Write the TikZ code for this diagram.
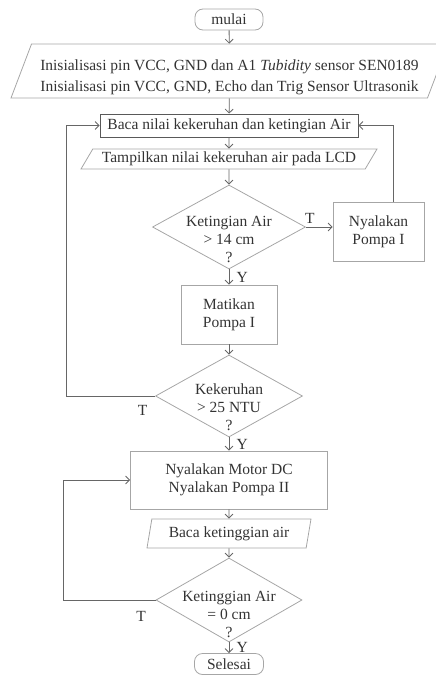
\documentclass[tikz,border=0pt]{standalone}
\usepackage{fontspec}
\setmainfont{Liberation Serif}
\usetikzlibrary{shapes.geometric,arrows.meta}

\begin{document}
\begin{tikzpicture}[x=1pt, y=-1pt,
    every node/.style={text=black!80, font=\fontsize{15.5}{18}\selectfont},
    terminal/.style={draw=black!35, line width=0.8pt, rounded corners=8pt,
        minimum width=68pt, minimum height=21pt, inner sep=0pt},
    proses/.style={draw=black!35, line width=0.8pt, align=center,
        inner sep=0pt},
    io/.style={trapezium, draw=black!35, line width=0.8pt, align=center,
        inner sep=0pt, trapezium stretches body},
    keputusan/.style={diamond, draw=black!35, line width=0.8pt,
        inner sep=0pt},
    teks/.style={align=center, inner sep=0pt},
    panah/.style={draw=black!60, line width=0.8pt,
        -{Straight Barb[length=4pt, width=8pt]}}
    ]
    \useasboundingbox (0,0) rectangle (436,677);

    \node[terminal] (mulai) at (229,19.5) {mulai};
    \node[io, trapezium left angle=67, trapezium right angle=113,
        minimum width=437pt, minimum height=54pt] (init) at (229.5,71)
        {\rule{0pt}{24pt}Inisialisasi pin VCC, GND dan A1 \textit{Tubidity} sensor SEN0189\\[3pt]
         Inisialisasi pin VCC, GND, Echo dan Trig Sensor Ultrasonik};
    \node[proses, draw=black!65, minimum width=258pt, minimum height=23pt]
        (baca) at (229,125.5) {Baca nilai kekeruhan dan ketingian Air};
    \node[io, trapezium left angle=50, trapezium right angle=130,
        minimum width=296pt, minimum height=20pt] (tampil) at (229,159)
        {Tampilkan nilai kekeruhan air pada LCD};
    \node[keputusan, minimum width=153pt, minimum height=84pt] (cek1)
        at (229,227) {};
    \node[teks] (tcek1) at (229,239) {Ketingian Air\\> 14 cm\\?};
    \node[proses, minimum width=91pt, minimum height=59pt] (pompa1)
        at (378.5,231.5) {Nyalakan\\Pompa I};
    \node[proses, minimum width=96pt, minimum height=59pt] (matikan)
        at (229,314.5) {Matikan\\Pompa I};
    \node[keputusan, minimum width=147pt, minimum height=82pt] (cek2)
        at (229,396) {};
    \node[teks] (tcek2) at (229,407) {Kekeruhan\\> 25 NTU\\?};
    \node[proses, minimum width=197pt, minimum height=58pt] (motor)
        at (229,480) {Nyalakan Motor DC\\Nyalakan Pompa II};
    \node[io, trapezium left angle=71, trapezium right angle=109,
        minimum width=164pt, minimum height=29pt] (tinggi) at (229,533.5)
        {Baca ketinggian air};
    \node[keputusan, minimum width=146pt, minimum height=84pt] (cek3)
        at (229,600) {};
    \node[teks] (tcek3) at (229,614) {Ketinggian Air\\= 0 cm\\?};
    \node[terminal, minimum width=69pt] (selesai) at (229,664) {Selesai};

    % alur utama
    \draw[panah] (mulai) -- (init);
    \draw[panah] (init) -- (baca);
    \draw[panah] (baca) -- (tampil);
    \draw[panah] (tampil) -- (cek1);
    \draw[panah] (cek1.east) -- node[pos=0.15, above]{T}
        (cek1.east -| pompa1.west);
    \draw[panah] ([xshift=15pt]pompa1.north) |- (baca.east);
    \draw[panah] (cek1) -- node[right, xshift=4pt]{Y} (matikan);
    \draw[panah] (matikan) -- (cek2);
    \draw[panah] (cek2.west) -- node[pos=0, below left, xshift=-4pt,
        yshift=-6pt]{T} ++(-89,0) |- (baca.west);
    \draw[panah] (cek2) -- node[right, xshift=4pt]{Y} (motor);
    \draw[panah] (motor) -- (tinggi);
    \draw[panah] (tinggi) -- (cek3);
    \draw[panah] (cek3.west) -- node[pos=0, below left, xshift=-6pt,
        yshift=-8pt]{T} ++(-92,0) |- (motor.west);
    \draw[panah] (cek3) -- node[right, xshift=4pt]{Y} (selesai);
\end{tikzpicture}
\end{document}
